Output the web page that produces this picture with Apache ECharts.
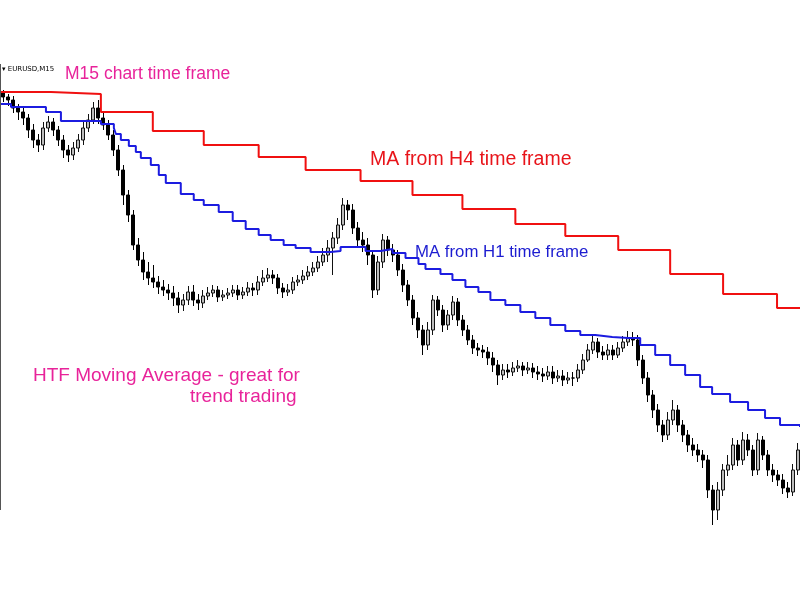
<!DOCTYPE html>
<html><head><meta charset="utf-8">
<script src="https://cdn.jsdelivr.net/npm/echarts@6/dist/echarts.min.js"></script>
<style>html,body{margin:0;padding:0;background:#fff}#c{width:800px;height:600px}</style>
</head><body><div id="c"></div>
<script>
// price levels (chart units, larger = lower on screen, axis inverted)
const firstOpen = 93;
const closes = [97,100,108,112,118,130,140,145,128,122,130,140,150,155,148,140,128,120,108,118,
125,135,150,170,195,215,245,260,272,278,282,287,290,293,298,305,300,292,300,303,
296,293,290,297,295,293,290,295,292,288,290,282,278,275,278,288,292,290,282,280,
276,272,268,262,255,248,238,225,205,210,228,240,245,255,290,262,240,250,255,270,
285,300,318,330,345,330,300,310,325,315,302,320,330,340,348,350,352,358,365,375,
370,372,368,366,370,368,372,374,376,372,378,376,380,378,378,370,360,350,342,352,
355,350,355,348,342,338,340,360,378,395,410,425,435,420,410,425,435,445,450,455,
460,490,510,490,470,465,445,460,440,450,470,440,455,470,475,480,488,492,470,450];
const highs = [90,94,96,104,108,114,124,134,122,116,118,126,135,145,142,134,122,114,102,100,
112,120,130,145,165,190,210,238,252,262,265,276,280,284,286,292,294,286,285,294,
290,287,285,286,290,288,285,285,287,282,283,276,270,268,270,274,283,284,277,275,
270,266,262,256,248,240,232,218,198,200,204,222,232,238,250,256,234,236,244,250,
264,280,295,312,325,322,295,296,305,310,296,298,315,325,335,343,345,347,352,360,
364,364,362,360,362,362,363,366,368,366,366,370,370,372,372,364,354,344,336,338,
346,344,345,342,336,331,332,335,355,372,390,404,420,412,400,405,420,430,438,444,
450,455,485,482,464,455,438,440,432,434,445,433,436,450,464,470,474,482,464,443];
const lows = [102,106,113,120,125,138,148,152,150,132,136,146,158,162,160,152,145,132,124,124,
130,140,156,176,205,222,250,266,280,285,288,294,296,300,306,313,311,305,306,310,
308,300,297,302,301,299,297,300,299,296,296,295,286,282,284,294,298,296,294,286,
284,280,276,272,266,262,275,244,230,220,234,248,252,265,298,295,268,256,262,276,
292,306,325,338,355,350,335,316,332,330,320,326,336,345,354,356,358,365,372,385,
380,378,376,372,376,374,378,380,382,380,384,382,386,384,386,382,374,362,354,358,
360,360,360,358,352,346,346,366,384,402,418,432,442,440,425,432,442,452,456,462,
468,498,525,520,496,476,470,466,465,456,476,475,460,476,482,486,494,498,496,475];
// higher-timeframe moving averages: [time index, level]
const maH4 = [[-0.5,92],[9.5,94],[19.5,112],[29.9,131],[40.1,145],[51.1,157],[60.5,170],[71.5,181],
[81.9,195],[91.9,209],[102.5,224],[112.5,236],[123.1,250],[133.5,274],[144.1,294],[154.9,308],[159.5,308]];
const maH1 = [[-0.5,104],[1.5,107],[8.5,112],[11.5,121],[19.5,124],[22.1,128],[22.5,134],[23.5,140],
[25.1,146],[26.5,152],[27.5,158],[29.5,165],[31.1,175],[32.5,183],[35.5,194],[38.1,200],[40.1,205],
[43.1,212],[45.9,221],[48.5,229],[51.1,235],[53.5,240],[56.1,245],[58.5,248],[61.5,252],[65.5,251],
[67.5,247],[70.9,247],[72.5,251],[75.5,249],[77.9,253],[80.5,258],[83.1,264],[84.5,269],[87.5,274],
[89.9,280],[92.5,287],[95.1,292],[97.5,300],[100.5,305],[103.5,312],[106.5,318],[109.5,325],
[112.5,331],[115.5,335],[118.5,337],[121.9,338],[125.1,338],[127.5,345],[130.5,355],[133.5,365],
[136.5,375],[139.5,387],[141.9,394],[145.5,402],[149.1,410],[152.5,418],[155.5,425],[159.5,427]];

const cats = closes.map((_, i) => i);
const candleData = closes.map((c, i) => [i === 0 ? firstOpen : closes[i - 1], c, highs[i], lows[i]]);

const chart = echarts.init(document.getElementById('c'));
const pink = '#e8239a';
chart.setOption({
  animation: false,
  backgroundColor: '#fff',
  grid: {left: 1, right: 0, top: 65, bottom: 65},
  xAxis: [
    {type: 'category', data: cats, show: false},
    {type: 'value', min: -0.5, max: closes.length - 0.5, show: false}
  ],
  yAxis: {type: 'value', inverse: true, min: 65, max: 535, show: false},
  graphic: [
    {type: 'line', shape: {x1: 0.5, y1: 64, x2: 0.5, y2: 510}, style: {stroke: '#555', lineWidth: 1}},
    {type: 'text', left: 2, top: 66, style: {text: '▾ EURUSD,M15', fontSize: 7, fill: '#000', fontFamily: 'DejaVu Sans'}},
    {type: 'text', left: 65, top: 65, style: {text: 'M15 chart time frame', fontSize: 17.5, fill: pink, fontFamily: 'Liberation Sans'}},
    {type: 'text', left: 370, top: 150, style: {text: 'MA from H4 time frame', fontSize: 19.5, fill: '#e8141a', fontFamily: 'Liberation Sans'}},
    {type: 'text', left: 415, top: 244, style: {text: 'MA from H1 time frame', fontSize: 16.8, fill: '#1c1cd0', fontFamily: 'Liberation Sans'}},
    {type: 'text', left: 33, top: 366, style: {text: 'HTF Moving Average - great for', fontSize: 19, fill: pink, fontFamily: 'Liberation Sans'}},
    {type: 'text', left: 190, top: 387, style: {text: 'trend trading', fontSize: 19, fill: pink, fontFamily: 'Liberation Sans'}}
  ],
  series: [
    {type: 'candlestick', data: candleData, barWidth: 3.5,
     itemStyle: {color: '#000', borderColor: '#000', color0: '#bdbdbd', borderColor0: '#111', borderWidth: 1}},
    {type: 'line', xAxisIndex: 1, data: maH4, step: 'end', showSymbol: false,
     lineStyle: {color: '#f01010', width: 2}},
    {type: 'line', xAxisIndex: 1, data: maH1, step: 'end', showSymbol: false,
     lineStyle: {color: '#1c1ce0', width: 2}}
  ]
});
</script></body></html>
